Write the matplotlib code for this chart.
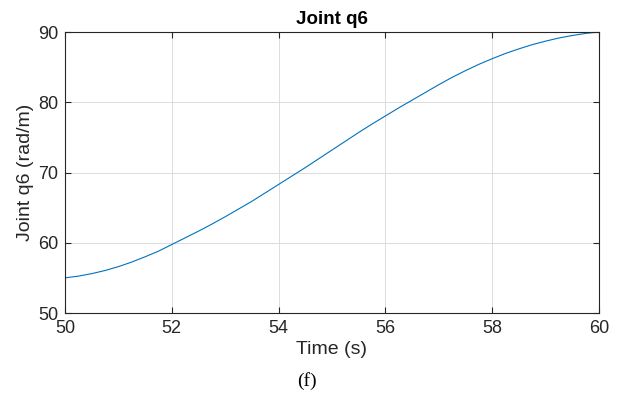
import matplotlib
matplotlib.use("Agg")
import matplotlib.pyplot as plt

t = [50, 50.25, 50.5, 50.75, 51, 51.25, 51.5, 51.75, 52, 52.25, 52.5, 52.75, 53, 53.25,
     53.5, 53.75, 54, 54.25, 54.5, 54.75, 55, 55.25, 55.5, 55.75, 56, 56.25, 56.5, 56.75,
     57, 57.25, 57.5, 57.75, 58, 58.25, 58.5, 58.75, 59, 59.25, 59.5, 59.75, 60]
q6 = [55.0, 55.25, 55.6, 56.05, 56.6, 57.25, 58.0, 58.8, 59.75, 60.7, 61.65, 62.65, 63.7, 64.8,
      65.9, 67.1, 68.3, 69.5, 70.7, 71.95, 73.2, 74.45, 75.7, 76.9, 78.05, 79.2, 80.3, 81.4,
      82.5, 83.55, 84.5, 85.4, 86.2, 86.95, 87.6, 88.2, 88.7, 89.15, 89.5, 89.8, 90.0]
xticks = [50, 52, 54, 56, 58, 60]
yticks = [50, 60, 70, 80, 90]

plt.rcParams['font.family'] = ['Liberation Sans', 'DejaVu Sans']
fig = plt.figure(figsize=(6.22, 3.96), dpi=100)
ax = fig.add_axes([65/622, 1-313/396, (599-65)/622, (313-32)/396])
ax.plot(t, q6, color='#0072BD', lw=0.8)
ax.set_xlim(50, 60)
ax.set_ylim(50, 90)
ax.set_xticks(xticks)
ax.set_yticks(yticks)
ax.grid(True, color='#dcdcdc', lw=0.7)
ax.set_axisbelow(True)
ax.tick_params(direction='in', top=True, right=True, labelsize=13, colors='#262626', length=4, width=0.8, pad=5)
for s in ax.spines.values():
    s.set_color('#262626')
    s.set_linewidth(0.8)
ax.set_title('Joint q6', fontsize=13.5, fontweight='bold', color='black', pad=6)
ax.set_xlabel('Time (s)', fontsize=14, color='#262626', labelpad=3)
ax.set_ylabel('Joint q6 (rad/m)', fontsize=14, color='#262626', labelpad=3)
fig.text(307/622, 1-381/396, '(f)', family='Liberation Serif', fontsize=14, ha='center', va='center')
fig.savefig('out.png', dpi=100)
